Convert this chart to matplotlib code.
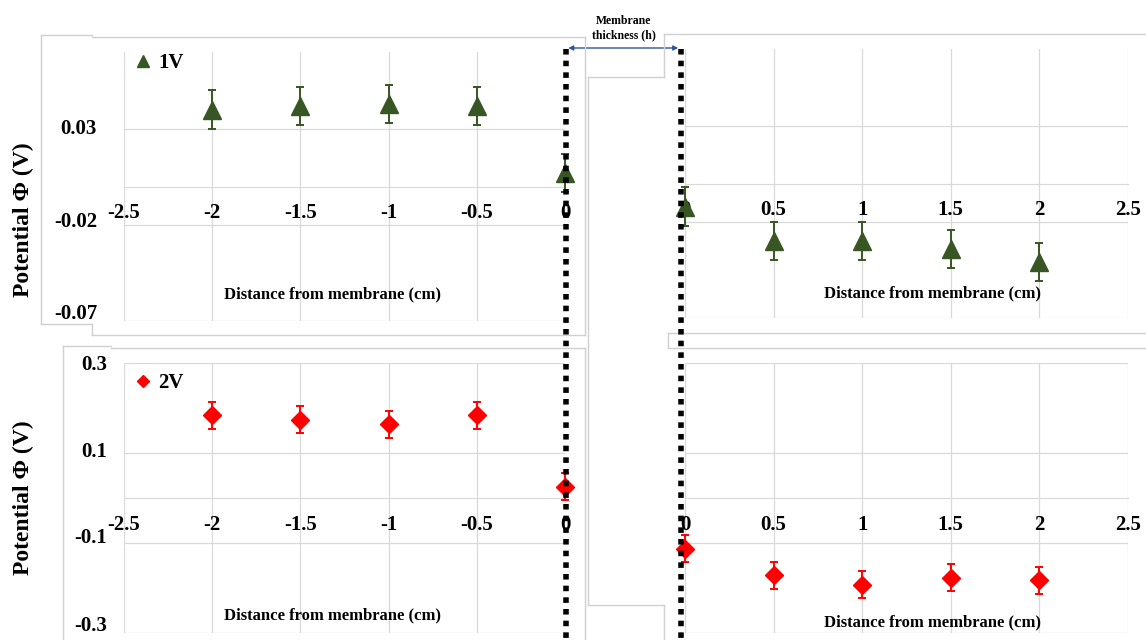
import matplotlib.pyplot as plt
from matplotlib.lines import Line2D
from matplotlib.patches import FancyArrowPatch
from matplotlib.transforms import ScaledTranslation

plt.rcParams['font.family'] = ['Liberation Serif', 'DejaVu Serif']
plt.rcParams['font.weight'] = 'bold'
plt.rcParams['axes.unicode_minus'] = False

# distance from membrane (cm), each side of the membrane
x_left = [-2, -1.5, -1, -0.5, 0]
x_right = [0, 0.5, 1, 1.5, 2]

# potential (V) at 1 V applied
v1_left = [0.040, 0.042, 0.043, 0.042, 0.007]
v1_right = [-0.012, -0.030, -0.030, -0.034, -0.041]
e1_left = [0.010, 0.010, 0.010, 0.010, 0.010]
e1_right = [0.010, 0.010, 0.010, 0.010, 0.010]

# potential (V) at 2 V applied
v2_left = [0.184, 0.174, 0.164, 0.184, 0.025]
v2_right = [-0.113, -0.172, -0.193, -0.177, -0.183]
e2_left = [0.030, 0.030, 0.030, 0.030, 0.030]
e2_right = [0.030, 0.030, 0.030, 0.030, 0.030]

xt_left = [-2.5, -2, -1.5, -1, -0.5, 0]
xt_left_lbl = ['-2.5', '-2', '-1.5', '-1', '-0.5', '0']
xt_right = [0, 0.5, 1, 1.5, 2, 2.5]
xt_right_lbl = ['0', '0.5', '1', '1.5', '2', '2.5']
yt_1v = [-0.07, -0.02, 0.03]
yt_1v_lbl = ['-0.07', '-0.02', '0.03']
yt_2v = [-0.3, -0.1, 0.1, 0.3]
yt_2v_lbl = ['-0.3', '-0.1', '0.1', '0.3']

GREEN = '#375623'
RED = '#ff0000'
GRID = '#d9d9d9'
FRAME = '#d0d0d0'

W, H = 1146, 640
fig = plt.figure(figsize=(W / 100, H / 100), dpi=100)


def box(x0, y0, x1, y1):
    # pixel box (top-left origin) -> figure fraction rect
    return [x0 / W, 1 - y1 / H, (x1 - x0) / W, (y1 - y0) / H]


def seg(x0, y0, x1, y1, **kw):
    fig.add_artist(Line2D([x0 / W, x1 / W], [1 - y0 / H, 1 - y1 / H],
                          transform=fig.transFigure, **kw))


def panel(rect, x, y, err, xlim, xt, xtl, ylim, yt, marker, color, ms, xlab_pos):
    ax = fig.add_axes(rect)
    ax.set_xlim(xlim)
    ax.set_ylim(ylim)
    ax.set_xticks(xt)
    ax.set_xticklabels(xtl)
    ax.set_yticks(yt)
    ax.set_yticklabels([])
    ax.grid(True, color=GRID, lw=0.9)
    ax.set_axisbelow(True)
    for s in ['top', 'right', 'left']:
        ax.spines[s].set_visible(False)
    ax.spines['bottom'].set_position(('data', 0))
    ax.spines['bottom'].set_color(GRID)
    ax.tick_params(axis='x', length=0, pad=12, labelsize=15)
    ax.tick_params(axis='y', length=0)
    ax.errorbar(x, y, yerr=err, fmt=marker, color=color, ms=ms, capsize=3,
                elinewidth=1.4, capthick=1.4, clip_on=False, zorder=3)
    ax.text(xlab_pos[0], xlab_pos[1], 'Distance from membrane (cm)',
            transform=ax.transAxes, ha='center', va='center', fontsize=12)
    return ax


def ylabels(ax, yt, ytl, xfrac, shifts):
    # value labels on the left, nudged a few pixels like the original layout
    for v, t, dy in zip(yt, ytl, shifts):
        tr = ax.get_yaxis_transform() + ScaledTranslation(0, dy / 100, fig.dpi_scale_trans)
        ax.text(xfrac, v, t, transform=tr, ha='right', va='center', fontsize=15)


ax1l = panel(box(124, 52, 565, 321), x_left, v1_left, e1_left, (-2.5, 0),
             xt_left, xt_left_lbl, (-0.07, 0.07), yt_1v,
             '^', GREEN, 12.5, (0.472, 0.10))
ax1r = panel(box(685, 49, 1128, 318), x_right, v1_right, e1_right, (0, 2.5),
             xt_right, xt_right_lbl, (-0.07, 0.07), yt_1v,
             '^', GREEN, 12.5, (0.558, 0.093))
ax2l = panel(box(124, 363, 565, 633), x_left, v2_left, e2_left, (-2.5, 0),
             xt_left, xt_left_lbl, (-0.3, 0.3), yt_2v,
             'D', RED, 9, (0.472, 0.064))
ax2r = panel(box(685, 363, 1128, 633), x_right, v2_right, e2_right, (0, 2.5),
             xt_right, xt_right_lbl, (-0.3, 0.3), yt_2v,
             'D', RED, 9, (0.558, 0.039))

ylabels(ax1l, yt_1v, yt_1v_lbl, -0.061, [7, 2.5, 0])
ylabels(ax2l, yt_2v, yt_2v_lbl, -0.039, [7, 5, 1, -2])

for ax, mk, col, ms, lbl, yy in [(ax1l, '^', GREEN, 8, '1V', 0.958),
                                 (ax2l, 'D', RED, 6, '2V', 0.925)]:
    h = Line2D([], [], marker=mk, ls='none', color=col, ms=ms)
    ax.legend([h], [lbl], loc='center left', bbox_to_anchor=(0.025, yy),
              frameon=False, handlelength=0.8, handletextpad=0.3,
              borderaxespad=0, borderpad=0,
              prop={'family': 'Liberation Serif', 'weight': 'bold', 'size': 15})

for yc in (220, 498):
    fig.text(23 / W, 1 - yc / H, 'Potential Φ (V)', rotation=90,
             ha='center', va='center', fontsize=17)

# chart-area outlines
fl = dict(color=FRAME, lw=1)
seg(41, 35, 92, 35, **fl)
seg(92, 37, 585, 37, **fl)
seg(41, 35, 41, 324, **fl)
seg(41, 324, 92, 324, **fl)
seg(92, 324, 92, 335, **fl)
seg(92, 335, 585, 335, **fl)
seg(585, 37, 585, 335, **fl)
seg(664, 34, 1146, 34, **fl)
seg(664, 34, 664, 77, **fl)
seg(588, 77, 664, 77, **fl)
seg(588, 77, 588, 605, **fl)
seg(588, 605, 664, 605, **fl)
seg(664, 605, 664, 640, **fl)
seg(668, 333, 1146, 333, **fl)
seg(668, 348, 1146, 348, **fl)
seg(668, 333, 668, 348, **fl)
seg(63, 346, 111, 346, **fl)
seg(111, 348, 585, 348, **fl)
seg(63, 346, 63, 640, **fl)
seg(585, 348, 585, 640, **fl)

# membrane faces
for xm in (565.5, 681):
    seg(xm, 49, xm, 640, color='black', lw=4, ls=(0, (1, 1.1)))

fig.add_artist(FancyArrowPatch((565.5 / W, 1 - 48 / H), (681 / W, 1 - 48 / H),
                               transform=fig.transFigure, arrowstyle='<|-|>',
                               mutation_scale=7, color='#2f5597', lw=1))
fig.text(624 / W, 1 - 28 / H, 'Membrane\nthickness (h)', ha='center',
         va='center', fontsize=8.5, linespacing=1.3)

fig.savefig('out.png', dpi=100)
